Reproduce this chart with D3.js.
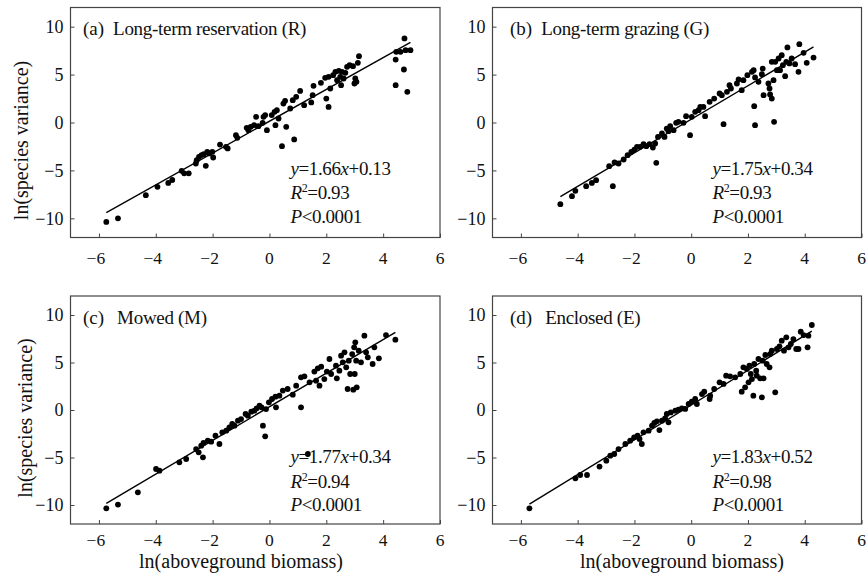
<!DOCTYPE html>
<html>
<head>
<meta charset="utf-8">
<script src="https://cdn.jsdelivr.net/npm/d3@7"></script>
<style>
  body { margin: 0; background: #fff; }
  svg { display: block; font-family: "Liberation Serif", "Times New Roman", serif; }
</style>
</head>
<body>
<div id="plot"></div>
<script>
/*------------------------------------------*/
/*            Data        */
/*------------------------------------------*/

// ln(aboveground biomass), ln(species variance)
var ptsR = [[-5.74,-10.37],[-5.33,-10.0],[-4.35,-7.58],[-3.94,-6.71],[-3.56,-6.3],[-3.42,-6.0],[-3.09,-5.04],[-3.0,-5.3],[-2.84,-5.3],[-2.59,-4.28],[-2.56,-3.93],[-2.48,-3.58],[-2.39,-3.4],[-2.31,-3.3],[-2.24,-4.52],[-2.19,-3.06],[-2.12,-3.23],[-2.01,-3.06],[-1.98,-3.65],[-1.74,-2.3],[-1.53,-2.54],[-1.47,-2.71],[-1.18,-1.32],[-1.13,-1.6],[-0.8,-0.56],[-0.74,-0.8],[-0.66,-0.45],[-0.54,-0.28],[-0.47,0.59],[-0.39,-0.38],[-0.24,-0.03],[-0.21,0.59],[-0.15,0.77],[-0.09,-0.8],[0.08,0.77],[0.18,1.11],[0.21,-0.28],[0.26,1.29],[0.32,0.42],[0.44,-2.47],[0.49,1.98],[0.55,2.26],[0.59,-0.45],[0.73,1.46],[0.82,2.33],[0.87,-1.77],[0.94,2.68],[1.08,3.3],[1.22,1.81],[1.47,2.09],[1.52,2.85],[1.55,3.83],[1.81,4.14],[1.96,4.66],[2.0,2.5],[2.08,4.77],[2.08,1.63],[2.14,3.55],[2.24,4.94],[2.32,5.29],[2.38,4.42],[2.44,5.39],[2.49,4.77],[2.52,3.9],[2.55,5.29],[2.61,4.59],[2.67,5.18],[2.73,5.81],[2.82,5.98],[2.94,5.88],[2.99,4.07],[3.02,4.59],[3.06,4.24],[3.11,6.23],[3.15,6.92],[4.44,3.9],[4.44,6.57],[4.46,7.37],[4.61,7.37],[4.73,5.53],[4.75,8.77],[4.79,7.55],[4.85,3.2],[4.96,7.55]];

var ptsG = [[-4.61,-8.52],[-4.2,-7.69],[-4.08,-7.13],[-3.7,-6.64],[-3.5,-6.3],[-3.35,-6.02],[-2.76,-6.64],[-2.89,-4.56],[-2.7,-4.17],[-2.56,-4.28],[-2.38,-3.86],[-2.24,-3.41],[-2.11,-3.06],[-2.0,-2.82],[-1.91,-2.54],[-1.8,-2.54],[-1.68,-2.26],[-1.58,-2.47],[-1.47,-2.26],[-1.35,-2.61],[-1.27,-2.19],[-1.23,-4.21],[-1.17,-1.5],[-1.03,-1.15],[-0.94,-1.5],[-0.86,-0.63],[-0.8,-0.9],[-0.74,-0.38],[-0.62,-0.8],[-0.53,-0.03],[-0.45,0.07],[-0.27,-0.03],[-0.18,0.66],[-0.04,-1.32],[0.02,0.59],[0.14,1.11],[0.26,1.29],[0.32,1.63],[0.43,1.63],[0.49,0.66],[0.65,2.16],[0.81,2.5],[1.0,3.03],[1.08,2.85],[1.14,-0.17],[1.26,3.2],[1.35,3.9],[1.4,3.55],[1.61,4.07],[1.78,3.37],[1.67,4.49],[1.84,4.42],[1.98,4.94],[2.14,5.29],[2.2,5.46],[2.25,4.7],[2.37,4.24],[2.22,1.7],[2.25,-0.28],[2.49,5.04],[2.52,5.63],[2.55,2.85],[2.72,4.07],[2.76,3.55],[2.78,2.92],[2.84,2.5],[2.9,4.42],[2.92,0.07],[2.84,6.33],[2.96,6.33],[3.02,5.46],[3.08,6.68],[3.13,5.46],[3.19,7.03],[3.23,5.98],[3.31,4.83],[3.35,6.33],[3.39,7.83],[3.46,6.16],[3.54,6.68],[3.66,6.09],[3.78,5.29],[3.81,8.17],[3.96,7.27],[4.07,6.23],[4.31,6.78]];

var ptsM = [[-5.74,-10.35],[-5.33,-9.96],[-4.63,-8.67],[-3.99,-6.21],[-3.87,-6.39],[-3.17,-5.51],[-2.93,-5.16],[-2.58,-4.11],[-2.49,-4.46],[-2.4,-3.75],[-2.32,-3.47],[-2.34,-4.98],[-2.17,-3.23],[-2.05,-3.33],[-1.9,-2.7],[-1.76,-3.58],[-1.66,-2.35],[-1.52,-2.18],[-1.41,-1.82],[-1.31,-1.47],[-1.23,-1.65],[-1.11,-1.12],[-1.0,-0.95],[-0.84,-0.42],[-0.76,-0.6],[-0.64,-0.18],[-0.53,-0.07],[-0.45,0.18],[-0.35,0.46],[-0.28,0.28],[-0.23,-1.65],[-0.15,-2.77],[-0.12,0.1],[-0.02,0.81],[0.09,1.16],[0.21,1.4],[0.23,0.28],[0.35,1.51],[0.47,2.04],[0.64,2.21],[0.82,1.61],[0.94,2.56],[1.11,0.28],[1.11,3.44],[1.23,3.54],[1.35,-4.63],[1.41,2.91],[1.58,4.04],[1.64,3.09],[1.7,4.39],[1.76,2.56],[1.82,4.56],[1.93,3.26],[2.02,4.04],[2.11,5.37],[2.17,3.79],[2.34,4.67],[2.37,3.33],[2.46,4.14],[2.52,5.72],[2.58,5.02],[2.64,6.07],[2.7,4.49],[2.75,2.21],[2.79,5.19],[2.84,3.79],[2.91,5.89],[2.95,2.14],[2.98,6.6],[3.0,3.79],[3.02,7.12],[3.05,5.19],[3.07,2.39],[3.14,6.25],[3.22,5.02],[3.34,7.82],[3.4,6.07],[3.46,5.54],[3.69,6.6],[3.63,4.84],[3.85,5.44],[4.1,7.89],[4.43,7.4]];

var ptsE = [[-5.7,-10.35],[-4.08,-7.19],[-3.91,-6.84],[-3.67,-6.84],[-3.23,-5.96],[-2.99,-5.33],[-2.85,-4.81],[-2.71,-4.63],[-2.56,-4.11],[-2.32,-3.58],[-2.15,-3.23],[-2.01,-2.88],[-1.89,-2.7],[-1.82,-3.05],[-1.74,-3.58],[-1.68,-2.35],[-1.5,-2.18],[-1.38,-1.65],[-1.3,-1.37],[-1.21,-1.19],[-1.12,-2.11],[-1.03,-1.12],[-0.92,-0.88],[-0.8,-1.3],[-0.86,-0.42],[-0.72,-0.25],[-0.56,-0.07],[-0.45,0.04],[-0.33,0.18],[-0.21,0.11],[-0.09,0.63],[0.02,0.88],[0.14,1.16],[0.2,0.63],[0.38,1.68],[0.46,1.93],[0.65,1.16],[0.67,1.51],[0.81,2.21],[1.0,2.91],[1.14,2.74],[1.23,3.61],[1.37,3.54],[1.55,3.44],[1.73,3.79],[1.78,1.93],[1.84,4.49],[1.9,2.39],[1.96,4.32],[2.02,2.91],[2.05,4.67],[2.1,3.79],[2.14,3.26],[2.19,1.51],[2.22,4.84],[2.29,4.14],[2.31,3.61],[2.37,5.37],[2.43,3.33],[2.49,1.33],[2.52,5.19],[2.55,3.33],[2.61,5.79],[2.66,4.84],[2.76,4.49],[2.78,5.89],[2.84,6.25],[2.96,1.86],[3.02,6.42],[3.11,6.7],[3.19,7.3],[3.27,6.25],[3.35,7.65],[3.43,6.6],[3.51,6.95],[3.6,7.47],[3.7,6.42],[3.78,6.42],[3.86,8.25],[3.96,7.89],[4.1,6.6],[4.13,7.82],[4.25,8.95]];

var panelLetters = ["(a)", "(b)", "(c)", "(d)"];
var panelNames = ["Long-term reservation (R)", "Long-term grazing (G)", "Mowed (M)", "Enclosed (E)"];
var slopes = [1.66, 1.75, 1.77, 1.83];
var intercepts = [0.13, 0.34, 0.34, 0.52];
var r2 = ["0.93", "0.93", "0.94", "0.98"];
var pText = "0.0001";

var xTicks = [-6, -4, -2, 0, 2, 4, 6];
var yTicks = [-10, -5, 0, 5, 10];
var xDomain = [-7, 6], yDomain = [-12, 12];

/*------------------------------------------*/
/*            Layout                        */
/*------------------------------------------*/

var W = 866, H = 581;
var cols = [[70.5, 440], [492.5, 861.5]],
    rows = [[7.5, 237.5], [296, 524]];

var panels = [ptsR, ptsG, ptsM, ptsE].map(function(pts, i) {
  return {
    pts: pts, letter: panelLetters[i], name: panelNames[i],
    slope: slopes[i], icpt: intercepts[i], r2: r2[i],
    col: i % 2, row: Math.floor(i / 2)
  };
});

var svg = d3.select("#plot").append("svg")
    .attr("width", W)
    .attr("height", H);

var ink = "#111";

panels.forEach(function(p) {

  var c = cols[p.col], r = rows[p.row];

  var x = d3.scaleLinear().domain(xDomain).range(c),
      y = d3.scaleLinear().domain(yDomain).range([r[1], r[0]]);

  var g = svg.append("g");

  // frame
  g.append("rect")
      .attr("x", c[0]).attr("y", r[0])
      .attr("width", c[1] - c[0]).attr("height", r[1] - r[0])
      .style("fill", "none")
      .style("stroke", "#444")
      .style("stroke-width", 1.2);

  // inward ticks via d3 axes
  var xAxis = d3.axisTop(x).tickValues(xTicks).tickSize(4).tickFormat("");
  g.append("g")
      .attr("transform", "translate(0," + r[1] + ")")
      .call(xAxis)
      .call(function(s) {
        s.select(".domain").remove();
        s.selectAll("line").attr("stroke", "#444");
      });

  var yAxis = d3.axisRight(y).tickValues(yTicks).tickSize(4).tickFormat("");
  g.append("g")
      .attr("transform", "translate(" + c[0] + ",0)")
      .call(yAxis)
      .call(function(s) {
        s.select(".domain").remove();
        s.selectAll("line").attr("stroke", "#444");
      });

  // tick labels
  var fmt = d3.format("d");
  g.selectAll(".xl").data(xTicks).enter().append("text")
      .attr("x", function(d) { return x(d) - (d < 0 ? 3 : 0); })
      .attr("y", r[1] + (p.row ? 21.5 : 26))
      .attr("text-anchor", "middle")
      .style("font-size", "17.5px")
      .style("fill", ink)
      .text(function(d) { return fmt(d); });

  g.selectAll(".yl").data(yTicks).enter().append("text")
      .attr("x", c[0] - 7)
      .attr("y", function(d) { return y(d); })
      .attr("dy", "0.35em")
      .attr("text-anchor", "end")
      .style("font-size", "18px")
      .style("fill", ink)
      .text(function(d) { return fmt(d); });

  // points
  g.selectAll(".pt").data(p.pts).enter().append("circle")
      .attr("cx", function(d) { return x(d[0]); })
      .attr("cy", function(d) { return y(d[1]); })
      .attr("r", 2.9)
      .style("fill", "#000");

  // fitted line over the range of the points
  var ext = d3.extent(p.pts, function(d) { return d[0]; });
  var line = d3.line()
      .x(function(d) { return x(d); })
      .y(function(d) { return y(p.slope * d + p.icpt); });
  g.append("path")
      .datum(ext)
      .attr("d", line)
      .style("fill", "none")
      .style("stroke", "#000")
      .style("stroke-width", 1.4);

  // panel title
  var t = g.append("text")
      .attr("x", c[0] + (p.col ? 17.5 : 12.5))
      .attr("y", r[0] + 27.5)
      .style("font-size", "19px")
      .style("fill", ink);
  t.append("tspan").text(p.letter);
  t.append("tspan").attr("dx", p.row ? 13 : 9).style("letter-spacing", "-0.3px").text(p.name);

  // stats
  var sx = c[0] + 220, sy = r[0] + 167;
  var s1 = g.append("text").attr("x", sx).attr("y", sy)
      .style("font-size", "19px").style("fill", ink).style("letter-spacing", "-0.4px");
  s1.append("tspan").style("font-style", "italic").text("y");
  s1.append("tspan").text("=" + p.slope.toFixed(2));
  s1.append("tspan").style("font-style", "italic").text("x");
  s1.append("tspan").text("+" + p.icpt.toFixed(2));

  var s2 = g.append("text").attr("x", sx).attr("y", sy + 24.5)
      .style("font-size", "19px").style("fill", ink).style("letter-spacing", "-0.4px");
  s2.append("tspan").style("font-style", "italic").text("R");
  s2.append("tspan").attr("dy", -7).style("font-size", "12px").text("2");
  s2.append("tspan").attr("dy", 7).text("=" + p.r2);

  var s3 = g.append("text").attr("x", sx).attr("y", sy + 48)
      .style("font-size", "19px").style("fill", ink).style("letter-spacing", "-0.4px");
  s3.append("tspan").style("font-style", "italic").text("P");
  s3.append("tspan").text("<" + pText);

  // axis titles
  if (p.col === 0) {
    var cy = (r[0] + r[1]) / 2 + (p.row ? 8 : 18);
    g.append("text")
        .attr("transform", "translate(" + (p.row ? 32 : 28) + "," + cy + ") rotate(-90)")
        .attr("text-anchor", "middle")
        .style("font-size", "20px")
        .style("fill", ink)
        .text("ln(species variance)");
  }
  if (p.row === 1) {
    g.append("text")
        .attr("x", p.col ? 682 : 241)
        .attr("y", 568)
        .attr("text-anchor", "middle")
        .style("font-size", "20px")
        .style("fill", ink)
        .text("ln(aboveground biomass)");
  }
});
</script>
</body>
</html>
